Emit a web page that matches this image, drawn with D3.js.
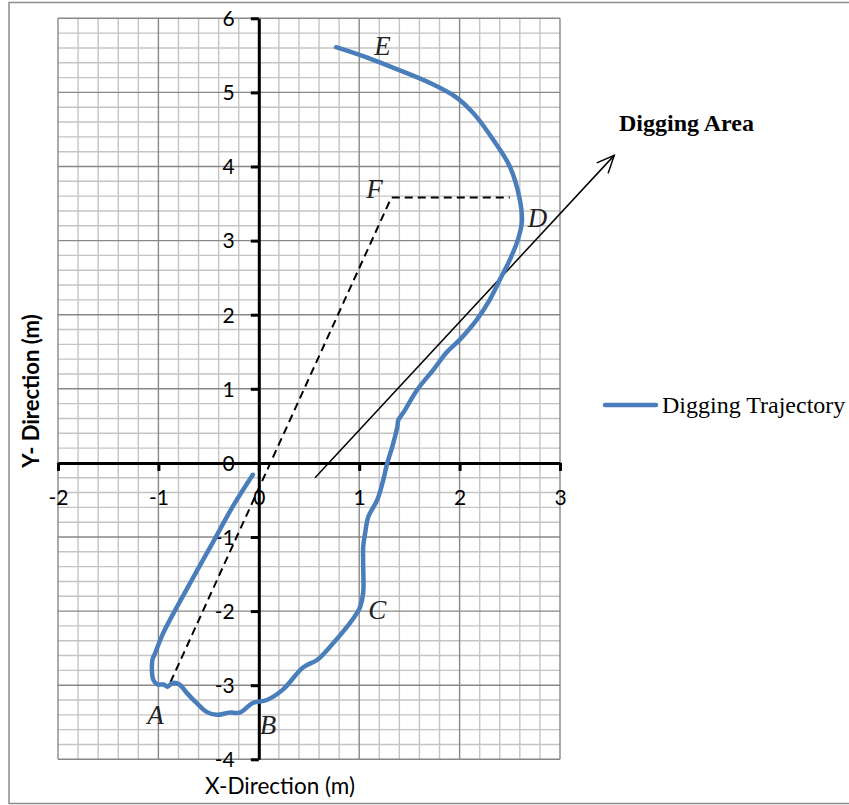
<!DOCTYPE html>
<html>
<head>
<meta charset="utf-8">
<script src="https://cdn.jsdelivr.net/npm/d3@7"></script>
<style>
  html, body { margin: 0; padding: 0; background: #fff; }
  svg { display: block; }
</style>
</head>
<body>
<svg id="chart" width="849" height="805"></svg>
<script>
// Bucket tip path, metres (x, y)
const trajX = [-0.06, -0.26, -0.46, -0.72, -0.95, -1.03, -1.06, -1.05, -1.01, -0.95, -0.91, -0.86, -0.79, -0.72, -0.62, -0.52, -0.42, -0.29, -0.19, -0.06, 0.08, 0.24, 0.44, 0.58, 0.71, 0.88, 0.98, 1.01, 1.04, 1.04, 1.04, 1.06, 1.09, 1.18, 1.24, 1.28, 1.33, 1.38, 1.39, 1.44, 1.58, 1.74, 1.87, 2.00, 2.17, 2.30, 2.40, 2.50, 2.58, 2.62, 2.60, 2.50, 2.34, 2.15, 1.97, 1.70, 1.40, 1.10, 0.77];
const trajY = [-0.16, -0.59, -1.08, -1.71, -2.29, -2.56, -2.66, -2.93, -2.99, -2.99, -3.02, -2.97, -2.99, -3.10, -3.24, -3.36, -3.40, -3.37, -3.37, -3.24, -3.20, -3.06, -2.76, -2.66, -2.48, -2.21, -2.02, -1.94, -1.75, -1.40, -1.13, -0.94, -0.73, -0.50, -0.23, 0.00, 0.22, 0.49, 0.58, 0.68, 0.99, 1.26, 1.49, 1.66, 1.93, 2.20, 2.47, 2.74, 3.01, 3.25, 3.55, 4.00, 4.35, 4.70, 4.93, 5.13, 5.30, 5.46, 5.61];

// Digging boundary A -> F -> D (dashed)
const areaX = [-0.88, 1.32, 2.50];
const areaY = [-2.96, 3.58, 3.58];

// Arrow pointing to the digging area label
const arrowX = [0.56, 3.54];
const arrowY = [-0.20, 4.15];

// Point labels
const ptNames = ["A", "B", "C", "D", "E", "F"];
const ptX = [-1.11, 0.01, 1.09, 2.68, 1.15, 1.07];
const ptY = [-3.52, -3.66, -2.11, 3.19, 5.50, 3.57];

const xTicks = [-2, -1, 0, 1, 2, 3];
const yTicks = [-4, -3, -2, -1, 0, 1, 2, 3, 4, 5, 6];

const svg = d3.select("#chart");

const x = d3.scaleLinear().domain([-2, 3]).range([58, 560]);
const y = d3.scaleLinear().domain([-4, 6]).range([759.3, 18.3]);

// Outer frame
svg.append("rect")
  .attr("x", 9).attr("y", 2.5).attr("width", 850).attr("height", 801)
  .attr("fill", "none").attr("stroke", "#8c8c8c").attr("stroke-width", 1.5);

// Grid: minor every 0.2 m, major every 1 m
const minorX = d3.range(-2, 3.0001, 0.2).map(v => +v.toFixed(1));
const minorY = d3.range(-4, 6.0001, 0.2).map(v => +v.toFixed(1));
const grid = svg.append("g");
grid.selectAll("line.mx").data(minorX.filter(v => !Number.isInteger(v))).join("line")
  .attr("x1", d => x(d)).attr("x2", d => x(d)).attr("y1", y(-4)).attr("y2", y(6))
  .attr("stroke", "#c4c4c4").attr("stroke-width", 1.4);
grid.selectAll("line.my").data(minorY.filter(v => !Number.isInteger(v))).join("line")
  .attr("y1", d => y(d)).attr("y2", d => y(d)).attr("x1", x(-2)).attr("x2", x(3))
  .attr("stroke", "#c4c4c4").attr("stroke-width", 1.4);
grid.selectAll("line.Mx").data(xTicks).join("line")
  .attr("x1", d => x(d)).attr("x2", d => x(d)).attr("y1", y(-4)).attr("y2", y(6))
  .attr("stroke", "#888").attr("stroke-width", 1.4);
grid.selectAll("line.My").data(yTicks).join("line")
  .attr("y1", d => y(d)).attr("y2", d => y(d)).attr("x1", x(-2)).attr("x2", x(3))
  .attr("stroke", "#888").attr("stroke-width", 1.4);

// Axes crossing at the origin
const tickFont = "Lato, 'Noto Sans', sans-serif";
const xAxis = svg.append("g").attr("transform", `translate(0,${y(0)})`)
  .call(d3.axisBottom(x).tickValues(xTicks).tickSize(8).tickSizeOuter(0).tickFormat(d3.format("d")));
const yAxis = svg.append("g").attr("transform", `translate(${x(0)},0)`)
  .call(d3.axisLeft(y).tickValues(yTicks).tickSize(8).tickSizeOuter(0).tickFormat(d3.format("d")));
[xAxis, yAxis].forEach(g => {
  g.select(".domain").attr("stroke", "#000").attr("stroke-width", 3);
  g.selectAll(".tick line").attr("stroke", "#000").attr("stroke-width", 3);
  g.selectAll(".tick text").attr("fill", "#000")
    .style("font-family", tickFont).style("font-size", "21px");
});
xAxis.selectAll(".tick text").attr("y", 35).attr("dy", "0.35em").text(d => d < 0 ? "-" + Math.abs(d) : d);
yAxis.selectAll(".tick text").attr("x", -24).attr("dy", "0.35em").text(d => d < 0 ? "-" + Math.abs(d) : d);

// Dashed digging boundary
const lineGen = d3.line().x(d => x(d[0])).y(d => y(d[1]));
svg.append("path")
  .datum(areaX.map((v, i) => [v, areaY[i]]))
  .attr("d", lineGen)
  .attr("fill", "none").attr("stroke", "#000").attr("stroke-width", 2)
  .attr("stroke-dasharray", "8,5");

// Arrow
const ax1 = x(arrowX[0]), ay1 = y(arrowY[0]), ax2 = x(arrowX[1]), ay2 = y(arrowY[1]);
svg.append("line")
  .attr("x1", ax1).attr("y1", ay1).attr("x2", ax2).attr("y2", ay2)
  .attr("stroke", "#000").attr("stroke-width", 1.5);
const ang = Math.atan2(ay2 - ay1, ax2 - ax1);
const hl = 19, spread = 0.42;
svg.append("path")
  .attr("d", `M${ax2 - hl * Math.cos(ang - spread)},${ay2 - hl * Math.sin(ang - spread)} L${ax2},${ay2} L${ax2 - hl * Math.cos(ang + spread)},${ay2 - hl * Math.sin(ang + spread)}`)
  .attr("fill", "none").attr("stroke", "#000").attr("stroke-width", 1.5);

// Trajectory
svg.append("path")
  .datum(trajX.map((v, i) => [v, trajY[i]]))
  .attr("d", d3.line().x(d => x(d[0])).y(d => y(d[1])).curve(d3.curveCatmullRom.alpha(0.5)))
  .attr("fill", "none").attr("stroke", "#4a7ebb").attr("stroke-width", 4.5)
  .attr("stroke-linecap", "round").attr("stroke-linejoin", "round");

// Point letters
svg.selectAll("text.pt").data(ptNames).join("text")
  .attr("x", (d, i) => x(ptX[i])).attr("y", (d, i) => y(ptY[i]))
  .text(d => d)
  .style("font-family", "'Liberation Serif', serif").style("font-style", "italic")
  .style("font-size", "27px").attr("fill", "#222");

// Axis titles
svg.append("text").attr("x", 280).attr("y", 794).attr("text-anchor", "middle")
  .style("font-family", tickFont).style("font-size", "22.5px").text("X-Direction (m)");
svg.append("text").attr("transform", "translate(39,391) rotate(-90)").attr("text-anchor", "middle")
  .style("font-family", tickFont).style("font-size", "22px").style("font-weight", "bold")
  .text("Y- Direction (m)");

// Annotation
svg.append("text").attr("x", 619).attr("y", 131)
  .style("font-family", "'Liberation Serif', serif").style("font-weight", "bold").style("font-size", "24px")
  .text("Digging Area");

// Legend
svg.append("line").attr("x1", 605).attr("x2", 656).attr("y1", 405).attr("y2", 405)
  .attr("stroke", "#4a7ebb").attr("stroke-width", 4.5).attr("stroke-linecap", "round");
svg.append("text").attr("x", 662).attr("y", 413)
  .style("font-family", "'Liberation Serif', serif").style("font-size", "24px")
  .text("Digging Trajectory");
</script>
</body>
</html>
